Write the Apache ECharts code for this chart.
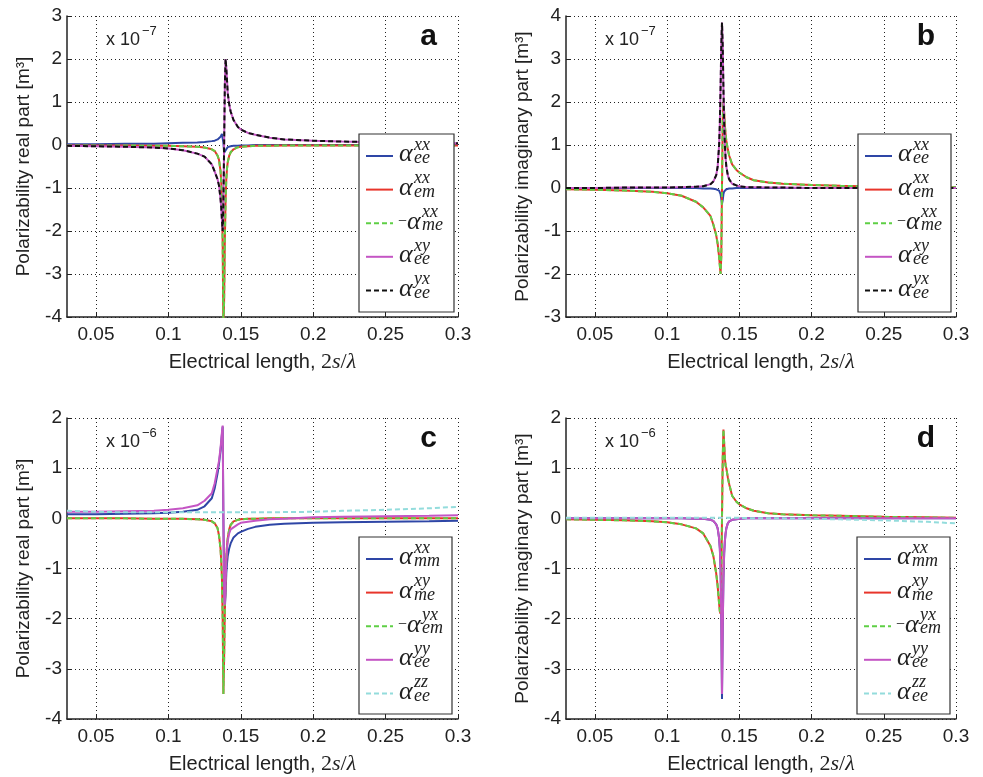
<!DOCTYPE html>
<html><head><meta charset="utf-8">
<script src="https://cdn.jsdelivr.net/npm/echarts@6/dist/echarts.min.js"></script>
<style>html,body{margin:0;padding:0;background:#fff}#c{width:983px;height:777px}</style>
</head><body><div id="c"></div>
<script>
// shared abscissa (electrical length 2s/lambda)
const xs = [0.03,0.05,0.07,0.09,0.1,0.11,0.12,0.125,0.13,0.132,0.134,0.135,0.136,0.1365,0.137,0.1375,0.138,0.1385,0.139,0.1395,0.14,0.1405,0.141,0.142,0.143,0.145,0.148,0.15,0.155,0.16,0.17,0.18,0.2,0.22,0.25,0.28,0.3];
const xTicks = [0.05,0.1,0.15,0.2,0.25,0.3];

// panel a: real part, x1e-7
const a_ee_xx = [0.02,0.02,0.03,0.03,0.04,0.05,0.06,0.07,0.09,0.1,0.13,0.15,0.19,0.22,0.26,0.28,0.05,-0.18,-0.2,-0.15,-0.1,-0.07,-0.05,-0.04,-0.03,-0.02,-0.02,-0.01,-0.01,0,0,0,0,0,0,0,0];
const a_em_xx = [-0.01,-0.01,-0.01,-0.02,-0.02,-0.03,-0.04,-0.06,-0.1,-0.14,-0.25,-0.35,-0.6,-0.85,-1.3,-2.3,-4.3,-3.6,-2.2,-1.3,-0.8,-0.55,-0.4,-0.25,-0.17,-0.1,-0.05,-0.04,-0.03,-0.02,-0.02,-0.01,-0.01,-0.01,-0.01,-0.01,-0.01];
const a_me_xx_neg = [-0.01,-0.01,-0.01,-0.02,-0.02,-0.03,-0.04,-0.06,-0.1,-0.14,-0.25,-0.35,-0.6,-0.85,-1.3,-2.3,-4.3,-3.6,-2.2,-1.3,-0.8,-0.55,-0.4,-0.25,-0.17,-0.1,-0.05,-0.04,-0.03,-0.02,-0.02,-0.01,-0.01,-0.01,-0.01,-0.01,-0.01];
const a_ee_xy = [-0.02,-0.03,-0.04,-0.06,-0.08,-0.12,-0.2,-0.27,-0.45,-0.62,-0.8,-0.95,-1.25,-1.45,-1.75,-2.0,-1.4,0,1.4,2.0,1.8,1.5,1.2,0.95,0.78,0.58,0.42,0.36,0.28,0.24,0.17,0.13,0.1,0.08,0.06,0.05,0.04];
const a_ee_yx = [-0.02,-0.03,-0.04,-0.06,-0.08,-0.12,-0.2,-0.27,-0.45,-0.62,-0.8,-0.95,-1.25,-1.45,-1.75,-2.0,-1.4,0,1.4,2.0,1.8,1.5,1.2,0.95,0.78,0.58,0.42,0.36,0.28,0.24,0.17,0.13,0.1,0.08,0.06,0.05,0.04];

// panel b: imaginary part, x1e-7
const b_ee_xx = [0,0,0,0,0,0,0,-0.01,-0.01,-0.02,-0.03,-0.04,-0.06,-0.09,-0.14,-0.25,-0.37,-0.28,-0.14,-0.08,-0.05,-0.04,-0.03,-0.02,-0.01,-0.01,0,0,0,0,0,0,0,0,0,0,0];
const b_em_xx = [-0.03,-0.04,-0.06,-0.09,-0.12,-0.18,-0.32,-0.45,-0.65,-0.85,-1.1,-1.3,-1.6,-1.8,-2.0,-1.6,0,1.6,2.0,1.75,1.45,1.25,1.1,0.9,0.75,0.55,0.42,0.36,0.25,0.18,0.13,0.1,0.07,0.05,0.03,0.02,0.02];
const b_me_xx_neg = [-0.03,-0.04,-0.06,-0.09,-0.12,-0.18,-0.32,-0.45,-0.65,-0.85,-1.1,-1.3,-1.6,-1.8,-2.0,-1.6,0,1.6,2.0,1.75,1.45,1.25,1.1,0.9,0.75,0.55,0.42,0.36,0.25,0.18,0.13,0.1,0.07,0.05,0.03,0.02,0.02];
const b_ee_xy = [0,0,0.01,0.01,0.01,0.02,0.03,0.04,0.09,0.15,0.3,0.5,1.0,1.5,2.3,3.3,3.85,3.3,2.3,1.5,1.0,0.7,0.5,0.3,0.2,0.1,0.06,0.04,0.02,0.02,0.01,0.01,0,0,0,0,0];
const b_ee_yx = [0,0,0.01,0.01,0.01,0.02,0.03,0.04,0.09,0.15,0.3,0.5,1.0,1.5,2.3,3.3,3.85,3.3,2.3,1.5,1.0,0.7,0.5,0.3,0.2,0.1,0.06,0.04,0.02,0.02,0.01,0.01,0,0,0,0,0];

// panel c: real part, x1e-6
const c_mm_xx = [0.08,0.08,0.09,0.1,0.11,0.13,0.17,0.24,0.4,0.6,0.9,1.1,1.35,1.5,1.68,1.83,0,-1.4,-1.78,-1.5,-1.1,-0.9,-0.75,-0.6,-0.5,-0.38,-0.3,-0.27,-0.21,-0.17,-0.13,-0.11,-0.09,-0.08,-0.07,-0.06,-0.05];
const c_me_xy = [0,0,0,-0.01,-0.01,-0.01,-0.02,-0.03,-0.06,-0.1,-0.2,-0.35,-0.6,-0.85,-1.2,-2.0,-3.5,-2.8,-1.8,-1.2,-0.8,-0.55,-0.4,-0.22,-0.13,-0.06,-0.03,-0.02,-0.01,-0.01,0,0,0,0,0,0,0];
const c_em_yx_neg = [0,0,0,-0.01,-0.01,-0.01,-0.02,-0.03,-0.06,-0.1,-0.2,-0.35,-0.6,-0.85,-1.2,-2.0,-3.5,-2.8,-1.8,-1.2,-0.8,-0.55,-0.4,-0.22,-0.13,-0.06,-0.03,-0.02,-0.01,-0.01,0,0,0,0,0,0,0];
const c_ee_yy = [0.13,0.13,0.14,0.15,0.17,0.2,0.26,0.35,0.5,0.7,1.0,1.15,1.4,1.55,1.72,1.85,0,-1.4,-1.72,-1.3,-0.85,-0.6,-0.45,-0.3,-0.22,-0.18,-0.12,-0.09,-0.07,-0.05,-0.02,-0.01,0.02,0.03,0.04,0.05,0.06];
const c_ee_zz = [0.15,0.13,0.12,0.12,0.12,0.12,0.12,0.12,0.12,0.12,0.12,0.12,0.12,0.12,0.12,0.12,0.12,0.12,0.12,0.12,0.12,0.12,0.12,0.12,0.12,0.12,0.12,0.12,0.12,0.12,0.12,0.125,0.13,0.15,0.17,0.2,0.23];

// panel d: imaginary part, x1e-6
const d_mm_xx = [0,0,0,0,0,0,-0.01,-0.01,-0.03,-0.05,-0.12,-0.2,-0.4,-0.6,-1.0,-2.0,-3.6,-2.2,-1.2,-0.7,-0.45,-0.3,-0.2,-0.1,-0.06,-0.03,-0.02,-0.01,0,0,0,0,0,0,0,0,0];
const d_me_xy = [-0.02,-0.03,-0.04,-0.06,-0.08,-0.12,-0.2,-0.3,-0.55,-0.75,-1.1,-1.35,-1.7,-1.85,-1.9,-1.2,0,1.2,1.77,1.5,1.2,1.05,1.0,0.82,0.68,0.45,0.33,0.28,0.2,0.15,0.1,0.08,0.06,0.05,0.03,0.02,0.01];
const d_em_yx_neg = [-0.02,-0.03,-0.04,-0.06,-0.08,-0.12,-0.2,-0.3,-0.55,-0.75,-1.1,-1.35,-1.7,-1.85,-1.9,-1.2,0,1.2,1.77,1.5,1.2,1.05,1.0,0.82,0.68,0.45,0.33,0.28,0.2,0.15,0.1,0.08,0.06,0.05,0.03,0.02,0.01];
const d_ee_yy = [0,0,0,0,0,0,-0.01,-0.01,-0.03,-0.05,-0.12,-0.2,-0.4,-0.6,-1.0,-2.0,-3.5,-2.2,-1.2,-0.7,-0.45,-0.3,-0.2,-0.1,-0.06,-0.03,-0.02,-0.01,0,0,0,0,0,0,0,0,0];
const d_ee_zz = [0.01,0.01,0.01,0.01,0.01,0.01,0.01,0.01,0.01,0.01,0.01,0.01,0.01,0.01,0.01,0.01,0.01,0.01,0.01,0.01,0.01,0.01,0.01,0.01,0.01,0.01,0.01,0.01,0.005,0,0,0,-0.01,-0.02,-0.04,-0.07,-0.1];

// legend labels: [prefix, subscript, superscript]
const legAB = [['','ee','xx'],['','em','xx'],['−','me','xx'],['','ee','xy'],['','ee','yx']];
const legCD = [['','mm','xx'],['','me','xy'],['−','em','yx'],['','ee','yy'],['','ee','zz']];

const BLUE='#2e46a6', RED='#e8352b', GREEN='#5fcf45', MAG='#c455c4', BLACK='#111', CYAN='#93dcdc';
const stylesAB = [[BLUE,null],[RED,null],[GREEN,[5,3]],[MAG,null],[BLACK,[5,3]]];
const stylesCD = [[BLUE,null],[RED,null],[GREEN,[5,3]],[MAG,null],[CYAN,[5,3]]];

const panels = [
  {letter:'a', grid:{left:67,top:16,width:391,height:301}, ymin:-4, ymax:3, yname:'Polarizability real part [m³]', exp:'−7', box:[359,134,95,178], leg:legAB, sty:stylesAB, data:[a_ee_xx,a_em_xx,a_me_xx_neg,a_ee_xy,a_ee_yx]},
  {letter:'b', grid:{left:566,top:16,width:390,height:301}, ymin:-3, ymax:4, yname:'Polarizability imaginary part [m³]', exp:'−7', box:[858,134,93,178], leg:legAB, sty:stylesAB, data:[b_ee_xx,b_em_xx,b_me_xx_neg,b_ee_xy,b_ee_yx]},
  {letter:'c', grid:{left:67,top:418,width:391,height:301}, ymin:-4, ymax:2, yname:'Polarizability real part [m³]', exp:'−6', box:[359,537,93,177], leg:legCD, sty:stylesCD, data:[c_mm_xx,c_me_xy,c_em_yx_neg,c_ee_yy,c_ee_zz]},
  {letter:'d', grid:{left:566,top:418,width:390,height:301}, ymin:-4, ymax:2, yname:'Polarizability imaginary part [m³]', exp:'−6', box:[857,537,93,177], leg:legCD, sty:stylesCD, data:[d_mm_xx,d_me_xy,d_em_yx_neg,d_ee_yy,d_ee_zz]}
];

const SANS = '"Liberation Sans", Arial, sans-serif';
const SERIF = '"Liberation Serif", "DejaVu Serif", serif';
const grids=[], xAxes=[], yAxes=[], series=[], graphics=[];

panels.forEach((p,pi)=>{
  grids.push(Object.assign({containLabel:false}, p.grid));
  xAxes.push({
    type:'value', gridIndex:pi, min:0.03, max:0.3,
    name:'{t|Electrical length, }{r|2}{i|s}{r|/}{i|λ}', nameLocation:'middle', nameGap:34,
    nameTextStyle:{rich:{t:{fontFamily:SANS,fontSize:20,color:'#222'},r:{fontFamily:SERIF,fontSize:22,color:'#222'},i:{fontFamily:SERIF,fontStyle:'italic',fontSize:22,color:'#222'}}},
    axisLine:{onZero:false, lineStyle:{color:'#222',width:1.5}},
    axisTick:{inside:true,length:4,customValues:xTicks,lineStyle:{color:'#222'}},
    axisLabel:{customValues:xTicks, margin:8, fontFamily:SANS, fontSize:19, color:'#222', formatter:v=>String(+(+v).toFixed(2))},
    splitLine:{show:true, lineStyle:{color:'#222', width:1, type:[1,3]}}
  });
  yAxes.push({
    type:'value', gridIndex:pi, min:p.ymin, max:p.ymax, interval:1,
    name:p.yname, nameLocation:'middle', nameGap:34,
    nameTextStyle:{fontFamily:SANS,fontSize:19,color:'#222'},
    axisLine:{show:true, onZero:false, lineStyle:{color:'#222',width:1.5}},
    axisTick:{show:true,inside:true,length:4,lineStyle:{color:'#222'}},
    axisLabel:{margin:5, fontFamily:SANS, fontSize:19, color:'#222'},
    splitLine:{show:true, lineStyle:{color:'#222', width:1, type:[1,3]}}
  });
  p.data.forEach((arr,si)=>{
    const [col,dash] = p.sty[si];
    series.push({
      type:'line', xAxisIndex:pi, yAxisIndex:pi, symbol:'none', smooth:false, clip:true,
      lineStyle:{color:col, width:2, type: dash || 'solid'},
      data: xs.map((x,i)=>[x, arr[i]]), z: 2+si, silent:true, animation:false
    });
  });
  // exponent label & panel letter
  const gx = p.grid.left, gy = p.grid.top;
  graphics.push({type:'text', x:gx+39, y:gy+24, z:100, style:{text:'x 10', font:'18px '+SANS, fill:'#222', align:'left', verticalAlign:'middle'}});
  graphics.push({type:'text', x:gx+75, y:gy+15, z:100, style:{text:p.exp, font:'13px '+SANS, fill:'#222', align:'left', verticalAlign:'middle'}});
  graphics.push({type:'text', x:gx+p.grid.width-21, y:gy+20.6, z:100, style:{text:p.letter, font:'bold 30px '+SANS, fill:'#111', align:'right', verticalAlign:'middle'}});
  // legend box
  const [bx,by,bw,bh] = p.box;
  graphics.push({type:'rect', z:100, shape:{x:bx,y:by,width:bw,height:bh}, style:{fill:'#fff', stroke:'#333', lineWidth:1.2}});
  p.leg.forEach((lab,i)=>{
    const ly = by + 22 + i*33.6;
    const [col,dash] = p.sty[i];
    graphics.push({type:'line', z:101, shape:{x1:bx+7,y1:ly,x2:bx+34,y2:ly}, style:{stroke:col, lineWidth:2, lineDash:dash||null}});
    let ax = bx + 40;
    if (lab[0]) {
      graphics.push({type:'text', z:101, x:ax-1, y:ly-1, style:{text:lab[0], font:'16px '+SERIF, fill:'#222', align:'left', verticalAlign:'middle'}});
      ax += 8;
    }
    graphics.push({type:'text', z:101, x:ax, y:ly-1.5, style:{text:'α', font:'italic 26px '+SERIF, fill:'#222', align:'left', verticalAlign:'middle'}});
    graphics.push({type:'text', z:101, x:ax+15, y:ly-11, style:{text:lab[2], font:'italic 18px '+SERIF, fill:'#222', align:'left', verticalAlign:'middle'}});
    graphics.push({type:'text', z:101, x:ax+15, y:ly+2.5, style:{text:lab[1], font:'italic 18px '+SERIF, fill:'#222', align:'left', verticalAlign:'middle'}});
  });
});

const chart = echarts.init(document.getElementById('c'), null, {renderer:'canvas'});
chart.setOption({
  animation:false, backgroundColor:'#fff',
  grid:grids, xAxis:xAxes, yAxis:yAxes, series:series,
  graphic:{elements:graphics}
});
</script></body></html>
